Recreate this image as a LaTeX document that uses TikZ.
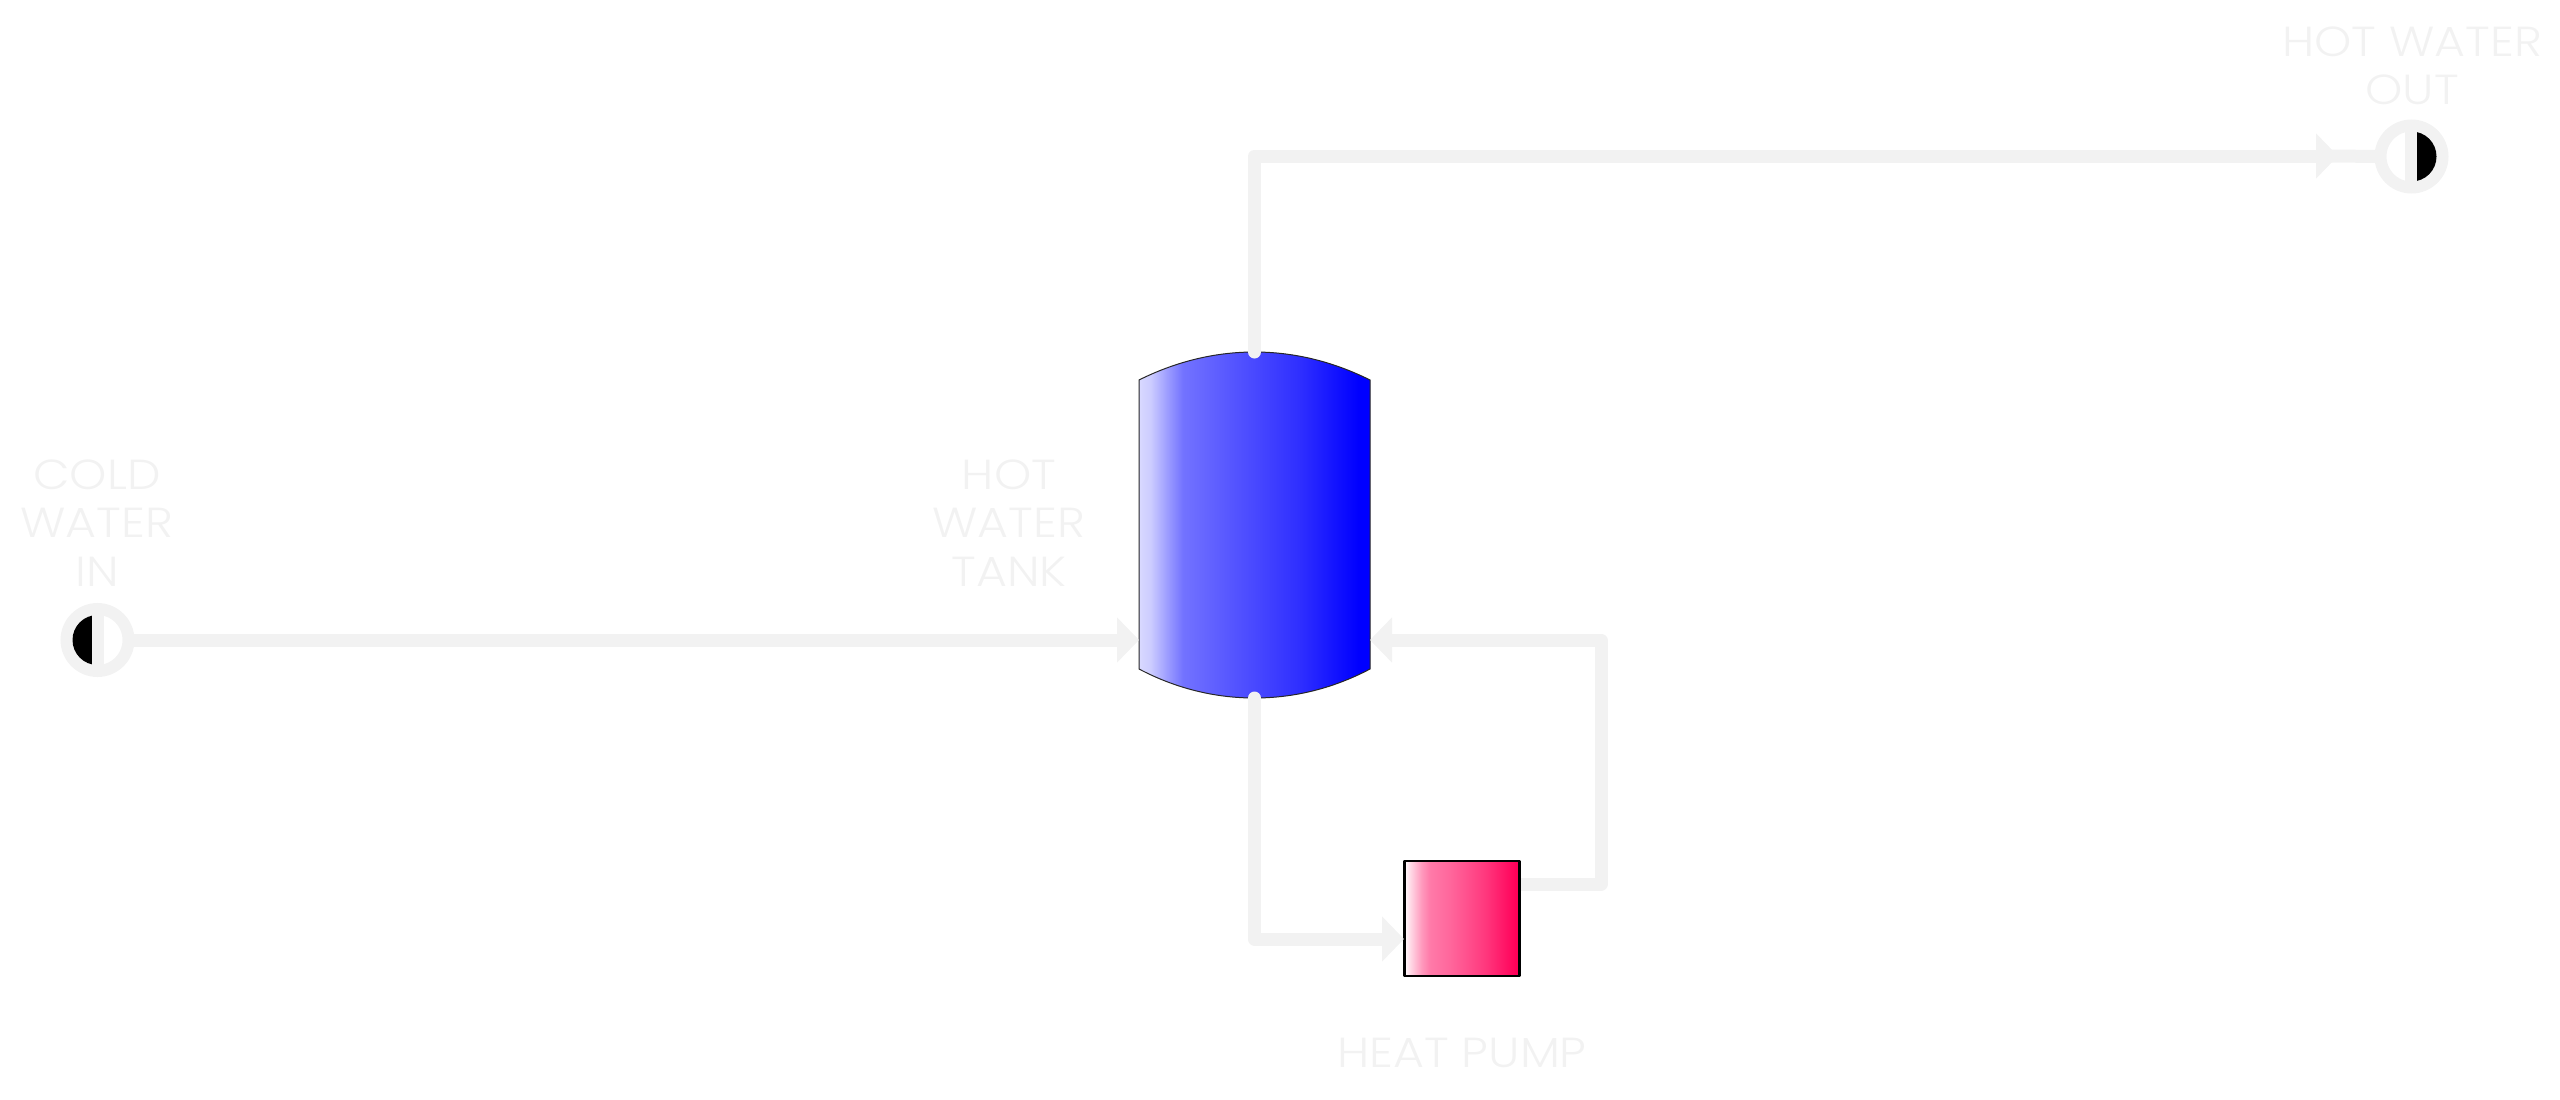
\documentclass[tikz,border=0pt]{standalone}
\usepackage{fontspec}
\newfontfamily\lab{Poppins}[UprightFont=* Light,FakeStretch=1.13]
\usetikzlibrary{arrows.meta}
\definecolor{pipe}{HTML}{F2F2F2}
\pgfdeclarehorizontalshading{tankshade}{100bp}{color(0bp)=(white!85!blue); color(25bp)=(white!85!blue); color(27.5bp)=(white!80!blue); color(31bp)=(white!62!blue); color(34.5bp)=(white!45!blue); color(45.5bp)=(white!33!blue); color(60bp)=(white!18!blue); color(72.5bp)=(blue); color(100bp)=(blue)}
\definecolor{hp}{HTML}{FF0059}
\pgfdeclarehorizontalshading{pumpshade}{100bp}{color(0bp)=(white); color(25bp)=(white); color(27.5bp)=(hp!15!white); color(32.5bp)=(hp!40!white); color(36bp)=(hp!52!white); color(45bp)=(hp!60!white); color(60bp)=(hp!78!white); color(73.5bp)=(hp); color(100bp)=(hp)}
\tikzset{
  pipeline/.style={draw=pipe,line width=13pt,line join=round,line cap=round},
  flow/.style={pipeline,line cap=butt,-{Triangle[length=22pt,width=44pt,fill=pipe]}},
  port/.style={circle,draw=pipe,line width=12pt,minimum size=62pt,inner sep=0pt,outer sep=0pt},
  label/.style={text=pipe,align=center,inner sep=0pt,font=\lab\fontsize{42}{48.5}\selectfont},
  box/.style={rectangle,inner sep=0pt,outer sep=0pt}
}
\begin{document}
\begin{tikzpicture}[x=1pt,y=-1pt]
\useasboundingbox (0,0) rectangle (2560,1100);
% tank
\node[box,minimum width=231pt,minimum height=346pt] (tank) at (1254.5,525) {};
\path[shade,shading=tankshade,draw=black!85,line width=1pt]
  (1139,380) .. controls (1175,362) and (1214,352) .. (1254.5,352)
  .. controls (1295,352) and (1334,362) .. (1370,380) -- (1370,669)
  .. controls (1334,688) and (1295,698) .. (1254.5,698)
  .. controls (1214,698) and (1175,688) .. (1139,669) -- cycle;
% heat pump
\node[box,minimum width=115pt,minimum height=115pt,draw=black,line width=2.5pt,line join=round,shading=pumpshade] (pump) at (1462,918.7) {};
% ports
\node[port] (cold) at (97.5,640) {};
\node[port] (hot) at (2411.5,156.5) {};
\begin{scope}
  \clip (50,600) rectangle (92,680);
  \fill[black] (cold.center) circle[radius=25];
\end{scope}
\begin{scope}
  \clip (2417,110) rectangle (2460,200);
  \fill[black] (hot.center) circle[radius=25];
\end{scope}
\draw[pipe,line width=12pt] (98,610) -- (98,670);
\draw[pipe,line width=12pt] (2411,126) -- (2411,187);
% connection points
\coordinate (tankIn) at (1139,640);
\coordinate (tankRet) at (1370,640);
\coordinate (pumpIn) at (1404,939);
\coordinate (pumpOut) at (1521,884);
\coordinate (retCorner) at (1601,884);
\coordinate (hotTip) at (2338,156);
\coordinate (hotJoin) at (2331,156);
\coordinate (pumpCorner) at (1254.5,939);
% connectors
\draw[flow] (cold.east) -- (tankIn);
\draw[pipeline] (tank.north) -- (tank.north |- hotTip) -- ++(20,0);
\draw[flow] (tank.north |- hotTip) -- (hotTip);
\draw[pipeline,line cap=butt] (hotJoin) -- (hot.west);
\draw[pipeline] (tank.south) -- (pumpCorner) -- ++(20,0);
\draw[flow] (pumpCorner) -- (pumpIn);
\draw[pipeline,line cap=butt] (pumpOut) -- (retCorner) -- (retCorner |- tankRet) -- ++(-20,0);
\draw[flow] (retCorner |- tankRet) -- (tankRet);
% labels
\node[label] (lcold) at (97,523) {COLD\\WATER\\IN};
\node[label] (ltank) at (1009,523) {HOT\\WATER\\TANK};
\node[label] (lhot) at (2412,66) {HOT WATER\\OUT};
\node[label] (lpump) at (1462,1053) {HEAT PUMP};
\end{tikzpicture}
\end{document}
